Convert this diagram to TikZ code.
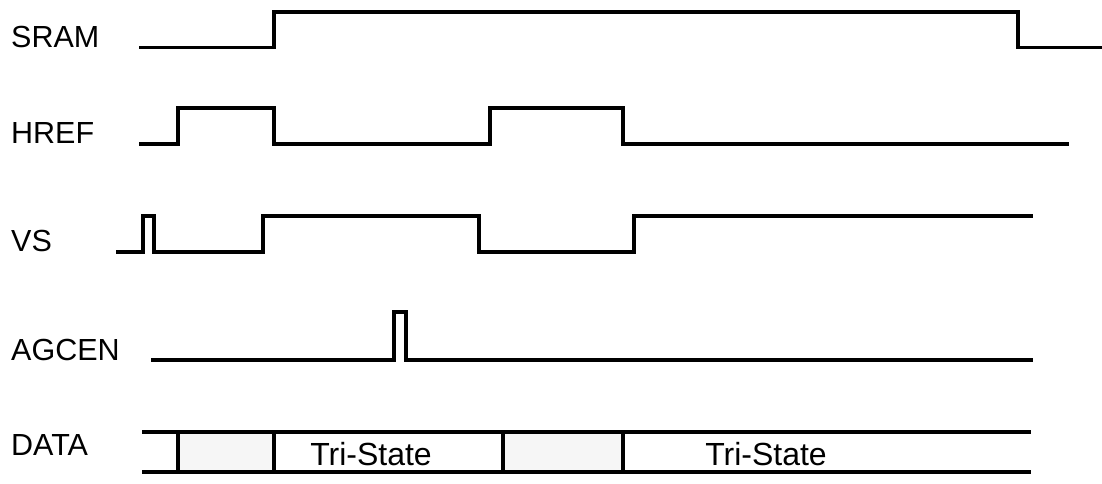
\documentclass[tikz,border=0pt]{standalone}
\usepackage{fontspec}
\setmainfont{Liberation Sans}
\definecolor{cellgray}{HTML}{F6F6F6}
\begin{document}
\begin{tikzpicture}[x=1pt,y=-1pt,
  sig/.style={line width=3.2pt,line join=miter,line cap=rect},
  lbl/.style={anchor=base west,inner sep=0pt,font=\fontsize{30.5}{36}\selectfont},
  tri/.style={anchor=base,inner sep=0pt,font=\fontsize{32}{36}\selectfont}]
\useasboundingbox (0,0) rectangle (1102,483);
% labels
\node[lbl] (lsram) at (11,47.5) {SRAM};
\node[lbl] (lhref) at (11,143) {HREF};
\node[lbl] (lvs) at (11,251) {VS};
\node[lbl] (lagc) at (11,360) {AGCEN};
\node[lbl] (ldata) at (11,455) {DATA};
% SRAM
\draw[sig] (141,47.5) -- (274,47.5) -- (274,12) -- (1018,12) -- (1018,47.5) -- (1100,47.5);
% HREF
\draw[sig] (141,144) -- (178,144) -- (178,108) -- (274,108) -- (274,144) -- (490,144) -- (490,108) -- (623,108) -- (623,144) -- (1067,144);
% VS
\draw[sig] (118,252) -- (143,252) -- (143,216) -- (154,216) -- (154,252) -- (263,252) -- (263,216) -- (479,216) -- (479,252) -- (634,252) -- (634,216) -- (1031,216);
% AGCEN
\draw[sig] (153,360) -- (394,360) -- (394,312) -- (406,312) -- (406,360) -- (1031,360);
% DATA
\fill[cellgray] (178,432) rectangle (274,472);
\fill[cellgray] (503,432) rectangle (623,472);
\draw[sig,line cap=butt] (142,432) -- (1031,432);
\draw[sig,line cap=butt] (142,472) -- (1031,472);
\foreach \xx in {178,274,503,623} \draw[sig,line cap=butt] (\xx,432) -- (\xx,472);
\node[tri] (t1) at (371,465) {Tri-State};
\node[tri] (t2) at (766,465) {Tri-State};
\end{tikzpicture}
\end{document}
